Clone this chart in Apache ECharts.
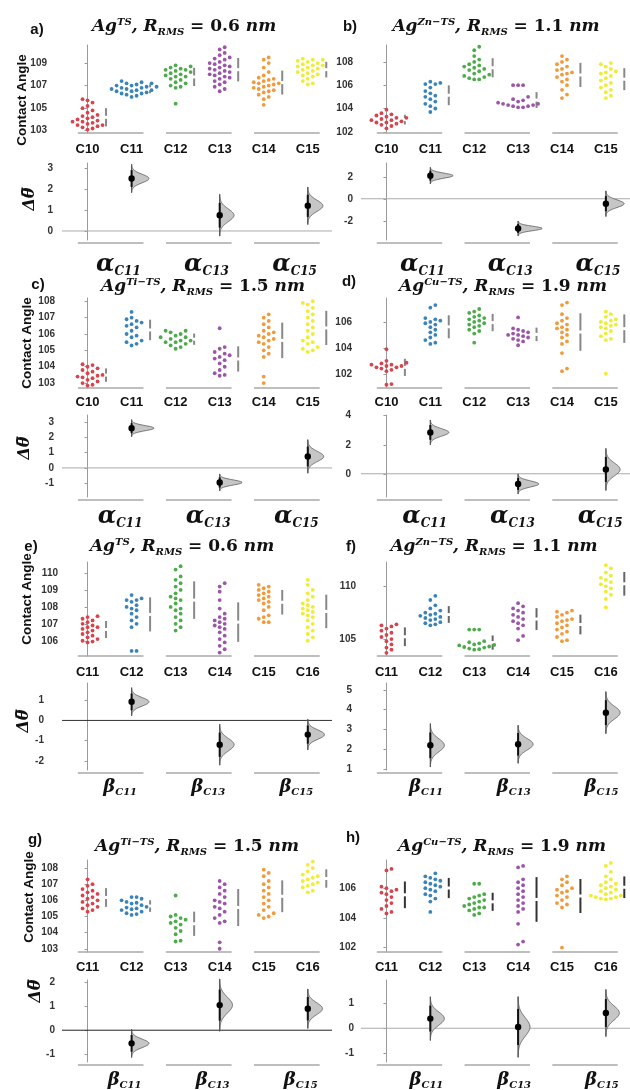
<!DOCTYPE html>
<html><head><meta charset="utf-8">
<script src="https://cdn.jsdelivr.net/npm/echarts@6/dist/echarts.min.js"></script>
<style>html,body{margin:0;padding:0;background:#fff}#c{width:630px;height:1090px}</style>
</head><body><div id="c"></div>
<script>
// ================= DATA =================
const catsAlpha = ['C10','C11','C12','C13','C14','C15'];
const catsBeta  = ['C11','C12','C13','C14','C15','C16'];
const effAlpha  = ['C11','C13','C15'];
const effBeta   = ['C11','C13','C15'];

// contact angles per group (a)
const swarmA = [
 [105.8,105.7,105.5,105.2,105.0,104.8,104.6,104.4,104.3,104.2,104.1,104.0,103.9,103.8,103.8,103.7,103.6,103.5,103.5,103.4,103.3,103.2,103.1],
 [107.4,107.3,107.2,107.2,107.1,107.0,107.0,106.9,106.9,106.8,106.8,106.7,106.7,106.6,106.6,106.5,106.5,106.4,106.3,106.3,106.2,106.1,106.0],
 [108.8,108.7,108.6,108.5,108.4,108.4,108.3,108.2,108.1,108.0,107.9,107.8,107.8,107.6,107.5,107.3,107.2,107.0,106.9,106.8,105.4],
 [110.4,110.2,109.9,109.7,109.5,109.4,109.3,109.1,109.0,108.9,108.8,108.7,108.6,108.5,108.4,108.3,108.2,108.1,108.0,107.9,107.8,107.7,107.6,107.4,107.3,107.1,106.9,106.7,106.5],
 [109.5,109.3,109.0,108.6,108.2,107.9,107.7,107.6,107.5,107.4,107.3,107.2,107.2,107.1,107.0,106.9,106.8,106.7,106.6,106.5,106.4,106.2,106.0,105.8,105.3],
 [109.4,109.3,109.3,109.2,109.1,109.0,108.9,108.8,108.8,108.7,108.6,108.5,108.4,108.3,108.2,108.1,108.0,107.9,107.8,107.6,107.4,107.2,107.1]
];
const swarmB = [
 [103.9,103.6,103.5,103.4,103.3,103.2,103.2,103.1,103.0,103.0,102.9,102.8,102.8,102.7,102.6,102.5,102.3],
 [106.3,106.2,106.1,106.1,105.8,105.5,105.3,105.1,105.0,104.8,104.6,104.4,104.2,104.0,103.7],
 [109.3,109.0,108.5,108.2,108.0,107.8,107.7,107.6,107.5,107.4,107.3,107.2,107.0,106.9,106.8,106.7,106.6,106.5,106.5],
 [106.0,106.0,106.0,105.0,104.8,104.7,104.6,104.5,104.4,104.4,104.3,104.3,104.2,104.2,104.1,104.1],
 [108.5,108.2,108.0,107.8,107.6,107.4,107.3,107.1,107.0,106.9,106.7,106.5,106.3,106.0,105.6,105.2,104.9],
 [107.9,107.8,107.6,107.4,107.2,107.1,107.0,106.8,106.6,106.4,106.2,106.0,105.8,105.6,105.4,105.1,104.9]
];
const swarmC = [
 [104.15,104.1,104.0,103.9,103.8,103.7,103.6,103.5,103.45,103.4,103.35,103.3,103.2,103.1,103.0,102.9,102.85],
 [107.35,107.0,106.9,106.8,106.7,106.6,106.5,106.4,106.2,106.0,105.9,105.8,105.6,105.5,105.4,105.3],
 [106.2,106.2,106.1,106.0,105.9,105.8,105.8,105.7,105.6,105.6,105.5,105.5,105.4,105.3,105.2,105.1],
 [106.35,105.2,105.1,104.9,104.8,104.7,104.6,104.5,104.4,104.2,104.0,103.8,103.6,103.5,103.45],
 [107.2,107.0,106.8,106.6,106.4,106.2,106.1,106.0,105.9,105.8,105.7,105.6,105.5,105.4,105.2,105.0,104.8,104.6,103.4,103.0],
 [108.0,107.9,107.8,107.6,107.4,107.2,107.0,106.8,106.6,106.4,106.2,106.0,105.8,105.6,105.5,105.4,105.2,105.1,105.0,104.9]
];
const swarmD = [
 [103.9,103.0,102.85,102.8,102.7,102.7,102.6,102.6,102.5,102.5,102.4,102.3,102.2,101.2,101.15],
 [107.3,107.1,106.3,106.2,106.1,106.0,105.9,105.8,105.6,105.4,105.2,105.0,104.8,104.6,104.4,104.3],
 [107.0,106.8,106.7,106.5,106.4,106.3,106.2,106.1,106.0,105.9,105.8,105.7,105.6,105.4,105.3,105.1,104.4],
 [106.35,105.5,105.4,105.3,105.2,105.1,105.0,105.0,104.9,104.8,104.7,104.6,104.5,104.2],
 [107.5,107.3,106.6,106.3,106.1,105.9,105.8,105.6,105.5,105.4,105.2,105.0,104.8,104.5,104.3,103.6,102.4,102.2],
 [106.8,106.6,106.4,106.2,106.1,106.0,105.9,105.8,105.7,105.6,105.5,105.3,105.1,104.9,104.7,104.6,102.0]
];
const swarmE = [
 [107.45,107.4,107.3,107.2,107.1,107.0,106.9,106.8,106.8,106.7,106.6,106.5,106.4,106.3,106.2,106.1,106.0,105.95,105.9],
 [108.7,108.5,108.4,108.4,108.3,108.1,108.0,107.9,107.8,107.6,107.4,107.2,107.0,106.8,105.4,105.4],
 [110.4,110.2,109.8,109.6,109.4,109.2,109.0,108.8,108.6,108.5,108.4,108.2,108.0,107.9,107.8,107.6,107.4,107.2,107.0,106.8,106.6],
 [109.4,109.2,108.9,108.4,107.9,107.6,107.4,107.3,107.2,107.1,107.0,106.9,106.8,106.7,106.5,106.3,106.1,105.9,105.7,105.5,105.3],
 [109.3,109.2,109.1,109.0,108.9,108.8,108.7,108.6,108.5,108.4,108.3,108.2,108.0,107.8,107.5,107.4,107.3,107.1,107.1],
 [109.6,109.3,109.0,108.8,108.6,108.4,108.2,108.1,108.0,107.9,107.8,107.7,107.6,107.5,107.4,107.2,107.0,106.8,106.6,106.4,106.2,106.0]
];
const swarmF = [
 [106.4,106.3,106.2,106.0,105.8,105.6,105.4,105.2,105.0,104.8,104.5,104.2,104.0,103.7],
 [109.1,108.7,108.2,107.9,107.7,107.5,107.4,107.3,107.2,107.1,107.0,106.9,106.8,106.6,106.5,106.4,106.3],
 [105.9,105.9,105.9,104.8,104.7,104.6,104.5,104.45,104.4,104.3,104.25,104.2,104.1,104.05,104.0],
 [108.4,108.1,107.9,107.7,107.5,107.3,107.1,106.9,106.7,106.5,106.3,106.0,105.3,104.9],
 [107.7,107.6,107.5,107.3,107.1,106.9,106.8,106.7,106.5,106.3,106.1,105.9,105.7,105.5,105.2,104.9,104.8],
 [112.0,111.7,111.3,111.0,110.8,110.6,110.4,110.2,110.0,109.8,109.5,109.2,108.8,108.0]
];
const swarmG = [
 [107.3,107.0,106.9,106.7,106.6,106.5,106.4,106.3,106.2,106.1,106.0,105.9,105.8,105.7,105.6,105.5,105.4,105.3],
 [106.2,106.2,106.1,106.0,105.9,105.85,105.8,105.7,105.6,105.55,105.5,105.45,105.4,105.3,105.2,105.15,105.1],
 [106.3,105.1,105.0,104.9,104.8,104.7,104.6,104.5,104.3,104.1,103.9,103.5,103.45],
 [107.2,107.0,106.8,106.6,106.4,106.2,106.0,105.9,105.8,105.6,105.5,105.3,105.1,104.9,104.7,104.6,103.4,103.0],
 [107.9,107.7,107.5,107.2,107.0,106.8,106.6,106.4,106.2,106.0,105.8,105.6,105.4,105.2,105.1,105.0,104.9],
 [108.4,108.2,108.0,107.8,107.6,107.5,107.4,107.3,107.2,107.1,107.0,106.9,106.8,106.6,106.5]
];
const swarmH = [
 [107.3,107.2,106.1,106.0,105.9,105.8,105.7,105.6,105.4,105.2,105.0,104.8,104.6,104.4,104.3],
 [107.0,106.8,106.7,106.6,106.5,106.4,106.3,106.2,106.1,106.0,105.9,105.8,105.6,105.5,105.3,105.1,104.4],
 [106.3,106.3,105.6,105.5,105.4,105.3,105.2,105.1,105.0,104.9,104.8,104.7,104.7,104.6,104.5,104.3,104.2],
 [107.5,107.4,106.6,106.4,106.2,106.0,105.8,105.6,105.4,105.2,105.0,104.8,104.6,104.4,103.6,102.4,102.2],
 [106.8,106.6,106.4,106.2,106.0,105.9,105.8,105.7,105.5,105.4,105.2,105.0,104.9,104.7,102.0],
 [107.7,107.5,107.1,106.8,106.6,106.4,106.3,106.2,106.1,106.0,105.9,105.8,105.7,105.6,105.5,105.5,105.4,105.4,105.3,105.3,105.25]
];

// mean difference [mean, CI low, CI high]
const deltaA = [[2.5,2.1,2.9],[0.75,0.16,1.34],[1.2,0.67,1.73]];
const deltaB = [[2.1,1.65,2.55],[-2.7,-3.1,-2.3],[-0.45,-1.14,0.24]];
const deltaC = [[2.6,2.27,2.93],[-0.95,-1.28,-0.62],[0.75,0.1,1.4]];
const deltaD = [[2.85,2.34,3.36],[-0.7,-1.11,-0.29],[0.3,-0.56,1.16]];
const deltaE = [[0.92,0.5,1.33],[-1.2,-1.8,-0.6],[-0.7,-1.15,-0.25]];
const deltaF = [[2.2,1.55,2.85],[2.25,1.68,2.82],[3.85,3.22,4.48]];
const deltaG = [[-0.55,-0.9,-0.2],[1.05,0.4,1.7],[0.9,0.41,1.39]];
const deltaH = [[0.38,-0.13,0.89],[0.05,-0.66,0.76],[0.6,0.05,1.15]];

// tick labels
const yTicksA = [103,105,107,109], dTicksA = [0,1,2,3];
const yTicksB = [102,104,106,108], dTicksB = [-2,0,2];
const yTicksC = [103,104,105,106,107,108], dTicksC = [-1,0,1,2,3];
const yTicksD = [102,104,106], dTicksD = [0,2,4];
const yTicksE = [106,107,108,109,110], dTicksE = [-2,-1,0,1];
const yTicksF = [105,110], dTicksF = [1,2,3,4,5];
const yTicksG = [103,104,105,106,107,108], dTicksG = [-1,0,1,2];
const yTicksH = [102,104,106], dTicksH = [-1,0,1];

// substrate labels and roughness
const substrates = ['TS','Zn\u2212TS','Ti\u2212TS','Cu\u2212TS'];
const roughness  = ['0.6','1.1','1.5','1.9'];

// ================= LAYOUT / STYLE =================
const SANS = 'Liberation Sans, Arial, sans-serif';
const SERIF = 'DejaVu Serif, serif';
const COLORS = ['#d8434c','#3b84ba','#4dab4b','#9b56a8','#f29a3a','#f0ec30'];
const XMIN = -0.58, XMAX = 5.55;
const DOT = 5.0;
const rows = [
  {sTop:45,  sH:88, dTop:163, dH:77, titleY:27,  catM:9.5, grM:12},
  {sTop:298, sH:90, dTop:415, dH:82, titleY:287, catM:7.5, grM:7},
  {sTop:562, sH:94, dTop:683, dH:87, titleY:547, catM:9.5, grM:7},
  {sTop:860, sH:92, dTop:980, dH:85, titleY:847, catM:8.5, grM:8}
];
const panels = [
 {L:'a)', sw:swarmA, de:deltaA, yt:yTicksA, dt:dTicksA, cats:catsAlpha, eff:effAlpha, gr:'α', sub:0, row:0, col:0, yMin:102.8, yMax:110.6, dMin:-0.43, dMax:3.24, yLM:15, dLM:9,  tx:184, lx:37, ly:30, gOff:0.70, sdC:'#888', zero:'#aaa'},
 {L:'b)', sw:swarmB, de:deltaB, yt:yTicksB, dt:dTicksB, cats:catsAlpha, eff:effAlpha, gr:'α', sub:1, row:0, col:1, yMin:101.9, yMax:109.45, dMin:-3.75, dMax:3.25, yLM:8, dLM:8, tx:496, lx:350, ly:27, gOff:0.82, sdC:'#888', zero:'#aaa'},
 {L:'c)', sw:swarmC, de:deltaC, yt:yTicksC, dt:dTicksC, cats:catsAlpha, eff:effAlpha, gr:'α', sub:2, row:1, col:0, yMin:102.7, yMax:108.2, dMin:-1.9, dMax:3.46, yLM:7, dLM:8,  tx:203, lx:38, ly:285, gOff:0.74, sdC:'#888', zero:'#aaa'},
 {L:'d)', sw:swarmD, de:deltaD, yt:yTicksD, dt:dTicksD, cats:catsAlpha, eff:effAlpha, gr:'α', sub:3, row:1, col:1, yMin:100.9, yMax:107.85, dMin:-1.6, dMax:4.05, yLM:9, dLM:10, tx:503, lx:349, ly:282, gOff:0.87, sdC:'#888', zero:'#aaa'},
 {L:'e)', sw:swarmE, de:deltaE, yt:yTicksE, dt:dTicksE, cats:catsBeta, eff:effBeta, gr:'β', sub:0, row:2, col:0, yMin:105.1, yMax:110.65, dMin:-2.45, dMax:1.85, yLM:4, dLM:18, tx:182, lx:31, ly:547, gOff:0.74, sdC:'#888', zero:'#333'},
 {L:'f)', sw:swarmF, de:deltaF, yt:yTicksF, dt:dTicksF, cats:catsBeta, eff:effBeta, gr:'β', sub:1, row:2, col:1, yMin:103.4, yMax:112.3, dMin:0.95, dMax:5.35, yLM:5, dLM:9,  tx:494, lx:351, ly:547, gOff:0.90, sdC:'#666', zero:null},
 {L:'g)', sw:swarmG, de:deltaG, yt:yTicksG, dt:dTicksG, cats:catsBeta, eff:effBeta, gr:'β', sub:2, row:3, col:0, yMin:102.8, yMax:108.5, dMin:-1.33, dMax:2.1, yLM:4, dLM:7,  tx:197, lx:35, ly:840, gOff:0.84, sdC:'#888', zero:'#222'},
 {L:'h)', sw:swarmH, de:deltaH, yt:yTicksH, dt:dTicksH, cats:catsBeta, eff:effBeta, gr:'β', sub:3, row:3, col:1, yMin:101.7, yMax:107.9, dMin:-1.33, dMax:1.9, yLM:5, dLM:7, tx:502, lx:353, ly:838, gOff:0.91, sdC:'#333', zero:'#aaa'}
];
const yLabels = [ {ca:[22,100], dt:[30,199]}, {ca:[27,343], dt:[25,448]}, {ca:[27,599], dt:[24,721]}, {ca:[29,897], dt:[36,991]} ];

// ================= HELPERS =================
function mean(a){return a.reduce((s,v)=>s+v,0)/a.length;}
function sdev(a,m){return Math.sqrt(a.reduce((s,v)=>s+(v-m)*(v-m),0)/(a.length-1));}
function swarmOffsets(vals, pxY, d){
  const idx = vals.map((v,i)=>i).sort((a,b)=>vals[a]-vals[b]);
  const placed=[], off=new Array(vals.length);
  for (const i of idx){
    const y = vals[i]*pxY; let k=0, x=0;
    while(true){
      const cand = k===0?0:(k%2?1:-1)*Math.ceil(k/2)*d;
      let ok=true;
      for(const p of placed){const dx=p.x-cand, dy=p.y-y; if(dx*dx+dy*dy<d*d*0.97){ok=false;break;}}
      if(ok){x=cand;break;} k++;
    }
    placed.push({x,y}); off[i]=x;
  }
  return off;
}
function yAxisCfg(g,min,max,ticks,margin){
  return {type:'value', gridIndex:g, min, max, splitLine:{show:false},
    axisLine:{show:true, lineStyle:{color:'#9a9a9a', width:1}},
    axisTick:{show:true, length:3, customValues:ticks, lineStyle:{color:'#9a9a9a'}},
    axisLabel:{customValues:ticks, margin, fontFamily:SANS, fontWeight:'bold', fontSize:10, color:'#333'}};
}
const sdRender = col => (params, api) => {
  const c=api.value(0), m=api.value(1), s=api.value(2);
  const x = api.coord([c+0.42, m])[0];
  const yt=api.coord([c,m+s])[1], ym=api.coord([c,m])[1], yb=api.coord([c,m-s])[1];
  return {type:'group', children:[
    {type:'line', shape:{x1:x,y1:yt,x2:x,y2:ym-1.5}, style:{stroke:col, lineWidth:2}},
    {type:'line', shape:{x1:x,y1:ym+1.5,x2:x,y2:yb}, style:{stroke:col, lineWidth:2}}
  ]};
};
const underRender = extra => (params, api) => {
  const cs = params.coordSys; const i = api.value(0);
  const x1 = api.coord([i-0.22, 0])[0], x2 = api.coord([i+1.27, 0])[0];
  const y = cs.y + cs.height + extra;
  return {type:'line', shape:{x1,y1:y,x2,y2:y}, style:{stroke:'#a8a8a8', lineWidth:1.5}};
};
const zeroRender = col => (params, api) => {
  const cs = params.coordSys; const y = api.coord([0, 0])[1];
  return {type:'line', shape:{x1:cs.x, y1:y, x2:cs.x+cs.width, y2:y}, style:{stroke:col, lineWidth:1}};
};
function deltaRender(params, api){
  const c=api.value(0), m=api.value(1), lo=api.value(2), hi=api.value(3);
  const p0 = api.coord([c,m]); const x0=p0[0], ym=p0[1];
  const sdv=(hi-lo)/3.92;
  const sdPx = Math.abs(api.coord([c,m+sdv])[1]-ym);
  const w = 36/Math.sqrt(sdPx);
  const pts=[[x0, ym+3.3*sdPx]];
  for(let t=-3.3;t<=3.3001;t+=0.1) pts.push([x0+w*Math.exp(-t*t/2), ym - t*sdPx]);
  pts.push([x0, ym-3.3*sdPx]);
  const yLo=api.coord([c,lo])[1], yHi=api.coord([c,hi])[1];
  return {type:'group', children:[
    {type:'polygon', shape:{points:pts}, style:{fill:'#c6c6c6', stroke:'#5a5a5a', lineWidth:0.8}},
    {type:'line', shape:{x1:x0,y1:ym-3.3*sdPx,x2:x0,y2:ym+3.3*sdPx}, style:{stroke:'#555', lineWidth:1}},
    {type:'line', shape:{x1:x0,y1:yHi,x2:x0,y2:yLo}, style:{stroke:'#111', lineWidth:2}},
    {type:'circle', shape:{cx:x0, cy:ym, r:3.2}, style:{fill:'#000'}}
  ]};
}

// ================= BUILD =================
const option = {animation:false, backgroundColor:'#fff', grid:[], xAxis:[], yAxis:[], series:[], graphic:[]};
const serifTok = (size, lh, italic, va) => ({fontFamily:SERIF, fontWeight:'bold', fontStyle: italic?'italic':'normal', fontSize:size, lineHeight:lh, fill:'#111', verticalAlign:va});
const titleRich = {it:serifTok(17,20,true), rm:serifTok(17,20,false), sup:serifTok(10,10,true,'top'), sub:serifTok(10,10,true,'bottom')};

panels.forEach(p => {
  const R = rows[p.row];
  const left = p.col ? 361 : 62, width = p.col ? 269 : 270;
  const gS = option.grid.length, gD = gS+1;
  option.grid.push({left, top:R.sTop, width, height:R.sH, containLabel:false});
  option.grid.push({left, top:R.dTop, width, height:R.dH, containLabel:false});
  const catIdx = p.cats.map((c,i)=>i);
  option.xAxis.push({type:'value', gridIndex:gS, min:XMIN, max:XMAX, splitLine:{show:false}, axisLine:{show:false}, axisTick:{show:false},
    axisLabel:{customValues:catIdx, formatter:v=>p.cats[Math.round(v)], margin:R.catM, fontFamily:SANS, fontWeight:'bold', fontSize:13, color:'#111'}});
  const isA = p.gr==='α';
  option.xAxis.push({type:'value', gridIndex:gD, min:XMIN, max:XMAX, splitLine:{show:false}, axisLine:{show:false}, axisTick:{show:false},
    axisLabel:{customValues:p.eff.map((e,i)=>2*i+p.gOff), formatter:v=>'{g|'+p.gr+'}{s|'+p.eff[Math.floor(v/2)]+'}', margin:R.grM,
      rich:{g:{fontFamily:SERIF, fontStyle:'italic', fontWeight:'bold', fontSize:isA?24:18, lineHeight:isA?26:20, color:'#111'},
            s:{fontFamily:SERIF, fontStyle:'italic', fontWeight:'bold', fontSize:isA?12:10, lineHeight:isA?12:10, verticalAlign:'bottom', color:'#111'}}}});
  option.yAxis.push(yAxisCfg(gS, p.yMin, p.yMax, p.yt, p.yLM));
  option.yAxis.push(yAxisCfg(gD, p.dMin, p.dMax, p.dt, p.dLM));

  const pxY = R.sH/(p.yMax-p.yMin), pxX = width/(XMAX-XMIN);
  p.sw.forEach((vals, ci) => {
    const off = swarmOffsets(vals, pxY, DOT);
    option.series.push({type:'scatter', xAxisIndex:gS, yAxisIndex:gS, symbolSize:3.8, silent:true,
      itemStyle:{color:COLORS[ci], opacity:1}, data: vals.map((v,k)=>[ci+off[k]/pxX, v])});
  });
  option.series.push({type:'custom', xAxisIndex:gS, yAxisIndex:gS, silent:true, renderItem:sdRender(p.sdC),
    data: p.sw.map((vals,ci)=>{const m=mean(vals); return [ci, m, sdev(vals,m)];})});
  option.series.push({type:'custom', xAxisIndex:gS, yAxisIndex:gS, silent:true, renderItem:underRender(0), data:[[0],[2],[4]]});
  option.series.push({type:'custom', xAxisIndex:gD, yAxisIndex:gD, silent:true, renderItem:underRender(3), data:[[0],[2],[4]]});
  if (p.zero) option.series.push({type:'custom', xAxisIndex:gD, yAxisIndex:gD, silent:true, renderItem:zeroRender(p.zero), data:[[0,0]]});
  option.series.push({type:'custom', xAxisIndex:gD, yAxisIndex:gD, silent:true, renderItem:deltaRender, z:5,
    data: p.de.map((d,i)=>[2*i+1, d[0], d[1], d[2]])});

  // title
  option.graphic.push({type:'text', x:p.tx, y:R.titleY, silent:true, style:{
    text:'{it|Ag}{sup|'+substrates[p.sub]+'}{it|, R}{sub|RMS}{rm| = '+roughness[p.sub]+' }{it|nm}',
    rich:titleRich, align:'center', verticalAlign:'middle', textAlign:'center', textVerticalAlign:'middle',
    fontFamily:SERIF, fontSize:17, fontWeight:'bold', fill:'#111'}});
  option.graphic.push({type:'text', x:p.lx, y:p.ly, silent:true, style:{text:p.L, align:'center', verticalAlign:'middle', textAlign:'center', textVerticalAlign:'middle',
    fontFamily:SANS, fontSize:15, fontWeight:'bold', fill:'#111'}});
  if (p.col===0){
    const yl = yLabels[p.row];
    option.graphic.push({type:'text', x:yl.ca[0], y:yl.ca[1], rotation:Math.PI/2, silent:true, style:{text:'Contact Angle', align:'center', verticalAlign:'middle', textAlign:'center', textVerticalAlign:'middle',
      fontFamily:SANS, fontSize:13.5, fontWeight:'bold', fill:'#111'}});
    option.graphic.push({type:'text', x:yl.dt[0], y:yl.dt[1], rotation:Math.PI/2, silent:true, style:{text:'\u0394\u03B8\u0305', align:'center', verticalAlign:'middle', textAlign:'center', textVerticalAlign:'middle',
      fontFamily:SERIF, fontSize:16, fontWeight:'bold', fontStyle:'italic', fill:'#111'}});
  }
});

const chart = echarts.init(document.getElementById('c'), null, {renderer:'canvas'});
chart.setOption(option);
</script>
</body></html>
